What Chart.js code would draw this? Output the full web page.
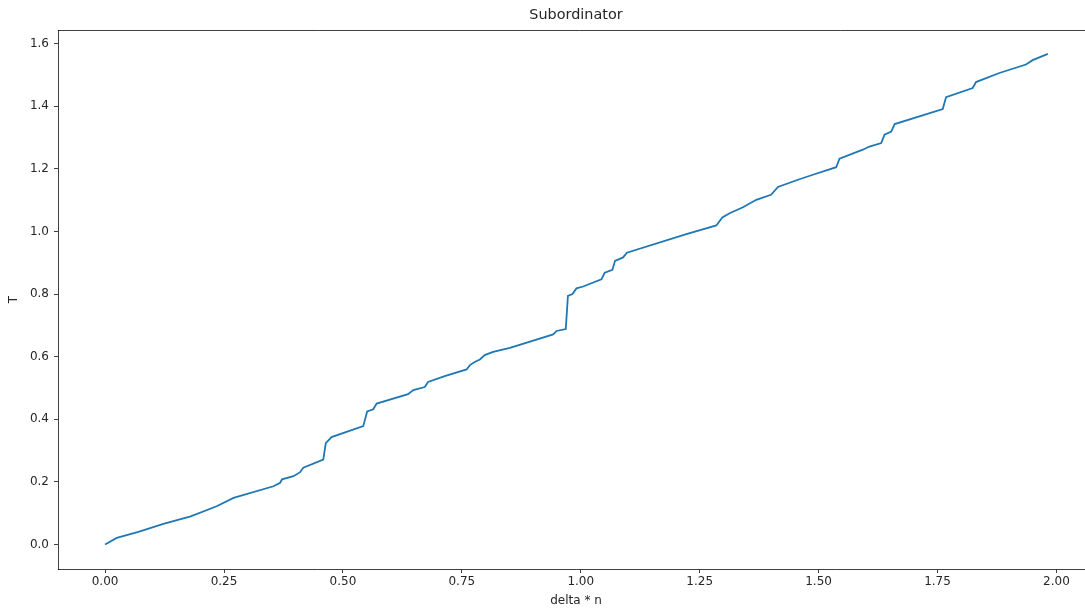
<!DOCTYPE html>
<html>
<head>
<meta charset="utf-8">
<script src="https://cdn.jsdelivr.net/npm/chart.js@4/dist/chart.umd.min.js"></script>
<style>
  html, body { margin: 0; padding: 0; background: #fff; overflow: hidden; }
  #wrap { width: 1085px; height: 608px; overflow: hidden; position: relative; }
  canvas { display: block; }
</style>
</head>
<body>
<div id="wrap"><canvas id="c" width="1100" height="608"></canvas></div>
<script>
// ---- data ----
const xValues = [0, 0.0245, 0.07, 0.1225, 0.18, 0.2346, 0.27, 0.354, 0.368, 0.372,
  0.396, 0.41, 0.4167, 0.4587, 0.464, 0.476, 0.5427, 0.551, 0.5637, 0.571,
  0.637, 0.648, 0.672, 0.679, 0.714, 0.760, 0.767, 0.777, 0.788, 0.798,
  0.8158, 0.851, 0.942, 0.949, 0.9685, 0.973, 0.9825, 0.991, 1.005, 1.0434,
  1.0504, 1.0665, 1.072, 1.089, 1.097, 1.222, 1.285, 1.2976, 1.313, 1.341,
  1.369, 1.40, 1.4146, 1.4566, 1.488, 1.537, 1.544, 1.593, 1.607, 1.6317,
  1.6386, 1.6527, 1.66, 1.761, 1.768, 1.824, 1.831, 1.880, 1.936, 1.950, 1.982];
const tValues = [0, 0.021, 0.040, 0.066, 0.090, 0.122, 0.149, 0.186, 0.197, 0.208,
  0.218, 0.231, 0.245, 0.271, 0.324, 0.343, 0.378, 0.425, 0.432, 0.450,
  0.480, 0.493, 0.503, 0.519, 0.538, 0.559, 0.573, 0.583, 0.591, 0.605,
  0.615, 0.628, 0.671, 0.682, 0.688, 0.794, 0.800, 0.818, 0.824, 0.847,
  0.868, 0.877, 0.906, 0.917, 0.932, 0.991, 1.019, 1.0445, 1.058, 1.077,
  1.101, 1.117, 1.142, 1.165, 1.181, 1.205, 1.232, 1.261, 1.271, 1.282,
  1.309, 1.319, 1.343, 1.391, 1.429, 1.458, 1.477, 1.506, 1.533, 1.547, 1.567];
const xTicks = [0, 0.25, 0.5, 0.75, 1.0, 1.25, 1.5, 1.75, 2.0];
const yTicks = [0, 0.2, 0.4, 0.6, 0.8, 1.0, 1.2, 1.4, 1.6];
const titleText = 'Subordinator';
const xLabel = 'delta * n';
const yLabel = 'T';

const points = xValues.map((x, i) => ({ x: x, y: tValues[i] }));
const FONT = 'DejaVu Sans';
const AXIS = 'rgba(0,0,0,0.75)';
const TXT = '#262626';

const frame = {
  id: 'frame',
  afterDatasetsDraw(chart) {
    const a = chart.chartArea, ctx = chart.ctx;
    ctx.save();
    ctx.strokeStyle = AXIS;
    ctx.lineWidth = 1;
    ctx.beginPath();
    ctx.moveTo(a.left, a.top + 0.5);
    ctx.lineTo(a.right + 20, a.top + 0.5);
    ctx.stroke();
    ctx.restore();
  }
};

new Chart(document.getElementById('c'), {
  type: 'line',
  data: {
    datasets: [{
      data: points,
      borderColor: '#1f77b4',
      borderWidth: 1.8,
      pointRadius: 0,
      tension: 0,
      fill: false
    }]
  },
  options: {
    responsive: false,
    animation: false,
    devicePixelRatio: 1,
    layout: { padding: { left: 0, right: 6, top: 0, bottom: 0 } },
    plugins: {
      legend: { display: false },
      tooltip: { enabled: false },
      title: {
        display: true,
        text: titleText,
        fullSize: false,
        color: TXT,
        font: { family: FONT, size: 14.4, weight: 'normal', lineHeight: '17px' },
        padding: { top: 7, bottom: 6 }
      }
    },
    scales: {
      x: {
        type: 'linear',
        min: -0.099,
        max: 2.079,
        afterFit(s) { s.height = 39; },
        afterBuildTicks(s) { s.ticks = xTicks.map(v => ({ value: v })); },
        grid: { drawOnChartArea: false, drawTicks: true, tickLength: 4, color: AXIS },
        border: { display: true, color: AXIS, width: 1 },
        ticks: {
          color: TXT,
          padding: 2,
          maxRotation: 0,
          autoSkip: false,
          font: { family: FONT, size: 12 },
          callback: v => Number(v).toFixed(2)
        },
        title: {
          display: true,
          text: xLabel,
          color: TXT,
          font: { family: FONT, size: 12 },
          padding: { top: 0, bottom: 0 }
        }
      },
      y: {
        type: 'linear',
        min: -0.0783,
        max: 1.6433,
        afterFit(s) { s.width = 58; },
        afterBuildTicks(s) { s.ticks = yTicks.map(v => ({ value: v })); },
        grid: { drawOnChartArea: false, drawTicks: true, tickLength: 4, color: AXIS },
        border: { display: true, color: AXIS, width: 1 },
        ticks: {
          color: TXT,
          padding: 5,
          autoSkip: false,
          font: { family: FONT, size: 12 },
          callback: v => Number(v).toFixed(1)
        },
        title: {
          display: true,
          text: yLabel,
          color: TXT,
          font: { family: FONT, size: 12 },
          padding: { top: 7, bottom: 0 }
        }
      }
    }
  },
  plugins: [frame]
});
</script>
</body>
</html>
